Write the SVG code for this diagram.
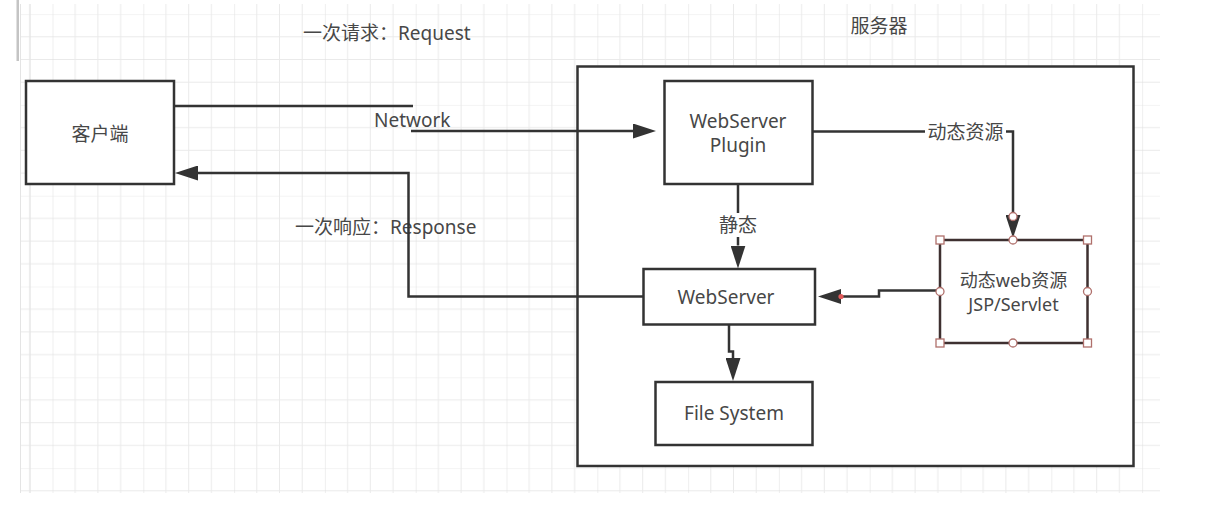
<svg xmlns="http://www.w3.org/2000/svg" width="1217" height="520" viewBox="0 0 1217 520">
<style>
  .box{fill:#fff;stroke:#333;stroke-width:2.5}
  .edge{fill:none;stroke:#333;stroke-width:2.5}
  .t{font-family:"Noto Sans","Noto Sans CJK SC",sans-serif;font-size:19px;fill:#474747;dominant-baseline:central}
  .s{font-size:18px}
  .c{text-anchor:middle}
  .h{fill:#fff;stroke:#b0706c;stroke-width:1.3}
</style>
<defs>
  <pattern id="grid" x="52.5" y="14.1" width="90.8" height="90.8" patternUnits="userSpaceOnUse">
    <path d="M22.7,0V90.8M45.4,0V90.8M68.1,0V90.8M0,22.7H90.8M0,45.4H90.8M0,68.1H90.8M0,0H90.8" fill="none" stroke="#eaeaea" stroke-width="1"/>
    <path d="M0,0V90.8" fill="none" stroke="#dfdfdf" stroke-width="1"/>
  </pattern>
  <marker id="arr" viewBox="0 0 23 15" refX="0" refY="7.5" markerWidth="23" markerHeight="15" markerUnits="userSpaceOnUse" orient="auto">
    <path d="M0,0L23,7.5L0,15z" fill="#333"/>
  </marker>
</defs>
<rect width="1217" height="520" fill="#fff"/>
<rect x="20" y="4" width="1140" height="489" fill="url(#grid)"/>
<path d="M30,4V493M20.5,4V493" stroke="#e4e4e4" stroke-width="1"/>
<rect x="16.5" y="0" width="2.5" height="61" fill="#c4c4c4"/>

<text class="t" x="303" y="33">一次请求：Request</text>
<text class="t c" x="879" y="26">服务器</text>
<text class="t" x="374" y="120">Network</text>
<text class="t" x="295" y="227">一次响应：Response</text>

<g id="server">
  <rect class="box" x="577.5" y="66.5" width="556" height="399.5"/>
</g>
<g id="client">
  <rect class="box" x="26" y="81" width="148" height="103"/>
  <text class="t c" x="100" y="134">客户端</text>
</g>
<g id="plugin">
  <rect class="box" x="664.5" y="81" width="148" height="103"/>
  <text class="t c" x="738" y="121">WebServer</text>
  <text class="t c" x="738" y="145">Plugin</text>
</g>
<g id="webserver">
  <rect class="box" x="643.5" y="269" width="171.5" height="55.5"/>
  <text class="t c" x="726" y="297">WebServer</text>
</g>
<g id="filesystem">
  <rect class="box" x="655.5" y="382" width="157" height="63"/>
  <text class="t c" x="734" y="413">File System</text>
</g>
<g id="dynamic">
  <rect class="box" x="940" y="240" width="147.5" height="103" style="stroke:#3e3030"/>
  <text class="t s c" x="1013.5" y="280">动态web资源</text>
  <text class="t s c" x="1013.5" y="304">JSP/Servlet</text>
</g>

<g id="connectors">
  <path class="edge" d="M174,106H413"/>
  <path class="edge" d="M411,131H633" marker-end="url(#arr)"/>
  <path class="edge" d="M738,184V245.5" marker-end="url(#arr)"/>
  <rect x="716" y="213" width="44" height="24" fill="#fff"/>
  <text class="t c" x="738" y="225">静态</text>
  <path class="edge" d="M729,324.5V351.5H733V358" marker-end="url(#arr)"/>
  <path class="edge" d="M812.5,131.5H1013V215" marker-end="url(#arr)"/>
  <rect x="925" y="120" width="81" height="26" fill="#fff"/>
  <text class="t c" x="965.5" y="132">动态资源</text>
  <path class="edge" d="M940,290.5H879V296.5H841" marker-end="url(#arr)"/>
  <circle cx="841" cy="296.5" r="2.6" fill="#e05a5a"/>
  <path class="edge" d="M643.5,296.5H408.5V173H198" marker-end="url(#arr)"/>
</g>

<g id="handles">
  <circle class="h" cx="1013" cy="216.5" r="4"/>
  <circle class="h" cx="1013" cy="240" r="4"/>
  <circle class="h" cx="1013" cy="343" r="4"/>
  <circle class="h" cx="940" cy="291.5" r="4"/>
  <circle class="h" cx="1087.5" cy="291.5" r="4"/>
  <rect class="h" x="936" y="236" width="8" height="8"/>
  <rect class="h" x="1083.5" y="236" width="8" height="8"/>
  <rect class="h" x="936" y="339" width="8" height="8"/>
  <rect class="h" x="1083.5" y="339" width="8" height="8"/>
</g>
</svg>
